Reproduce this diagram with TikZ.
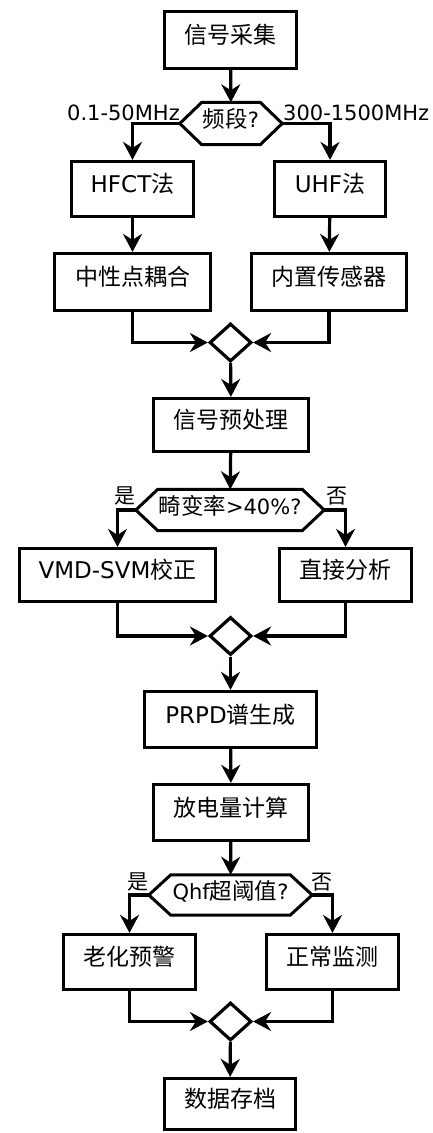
\documentclass[tikz,border=0pt]{standalone}
\usepackage{fontspec}
\setmainfont{DejaVu Sans}
\newfontfamily\cjk{Noto Sans CJK SC}
\newcommand\zh[1]{{\cjk #1}}
\newcommand\zhd[1]{{\cjk\fontsize{22.5}{26}\selectfont #1}}
\usetikzlibrary{arrows.meta,shapes.geometric}
\newcommand\hexdraw[1]{\draw[hexline] (#1.west) -- ([xshift=22pt]#1.north west) -- ([xshift=-22pt]#1.north east) -- (#1.east) -- ([xshift=-22pt]#1.south east) -- ([xshift=22pt]#1.south west) -- cycle;}
\begin{document}
\begin{tikzpicture}[x=1pt,y=-1pt,
  proc/.style={draw, line width=3.2pt, inner sep=0pt, font=\fontsize{23}{27}\selectfont, text height=0.88em, text depth=0.12em},
  hexnode/.style={inner sep=0pt, font=\fontsize{21}{25}\selectfont, text height=0.95em, text depth=0.15em},
  hexline/.style={line width=3pt, line join=miter},
  merge/.style={draw, diamond, line width=3.2pt, inner sep=0pt, minimum width=42pt, minimum height=38pt},
  lbl/.style={inner sep=0pt, font=\fontsize{21}{25}\selectfont},
  yn/.style={inner sep=0pt, font=\cjk\fontsize{21}{24}\selectfont, text height=0.88em, text depth=0.12em},
  arr/.style={line width=3.2pt, -{Stealth[length=18pt,width=19pt,inset=6pt]}},
  conn/.style={line width=3.2pt}]
\useasboundingbox (0,0) rectangle (433,1133);

% nodes
\node[proc, minimum width=132pt, minimum height=57pt] (b1) at (230.5,40) {\zh{信号采集}};
\node[hexnode, minimum width=102pt, minimum height=42pt] (h1) at (231,123.5) {\zhd{频段}?};
\node[proc, minimum width=122pt, minimum height=55pt] (b2) at (132.5,189) {HFCT\zh{法}};
\node[proc, minimum width=111pt, minimum height=55pt] (b3) at (330,189) {UHF\zh{法}};
\node[proc, minimum width=156pt, minimum height=57pt] (b4) at (132.5,282) {\zh{中性点耦合}};
\node[proc, minimum width=155pt, minimum height=57pt] (b5) at (329,282) {\zh{内置传感器}};
\node[merge] (m1) at (230.5,342.5) {};
\node[proc, minimum width=155pt, minimum height=53pt] (b6) at (231,425) {\zh{信号预处理}};
\node[hexnode, minimum width=188pt, minimum height=41pt] (h2) at (230,510) {\zhd{畸变率}>40\%?};
\node[proc, minimum width=196pt, minimum height=53pt] (b7) at (117.5,575) {VMD-SVM\zh{校正}};
\node[proc, minimum width=132pt, minimum height=53pt] (b8) at (345.5,575) {\zh{直接分析}};
\node[merge] (m2) at (230.5,636) {};
\node[proc, minimum width=172pt, minimum height=56pt] (b9) at (230.5,719.5) {PRPD\zh{谱生成}};
\node[proc, minimum width=155pt, minimum height=56pt] (b10) at (231,812.5) {\zh{放电量计算}};
\node[hexnode, minimum width=163pt, minimum height=40pt] (h3) at (230.5,895) {Qhf\zhd{超阈值}?};
\node[proc, minimum width=132pt, minimum height=55pt] (b11) at (129.5,962) {\zh{老化预警}};
\node[proc, minimum width=132pt, minimum height=55pt] (b12) at (332.5,962) {\zh{正常监测}};
\node[merge] (m3) at (230.5,1021.5) {};
\node[proc, minimum width=131pt, minimum height=51pt] (b13) at (230,1104) {\zh{数据存档}};

\hexdraw{h1}
\hexdraw{h2}
\hexdraw{h3}

% labels
\node[lbl, anchor=base east] (l1) at (180,120.5) {0.1-50MHz};
\node[lbl, anchor=base west] (l2) at (283,120.5) {300-1500MHz};
\node[yn] (y2) at (125,499.5) {是};
\node[yn] (n2) at (337,499.5) {否};
\node[yn] (y3) at (138,885.5) {是};
\node[yn] (n3) at (321.5,885.5) {否};

% connectors
\draw[arr] (b1) -- (h1);
\draw[arr] (h1.west) -| (b2.north);
\draw[arr] (h1.east) -| (b3.north);
\draw[arr] (b2) -- (b4);
\draw[arr] (b3) -- (b5);
\draw[arr] (b4.south) |- (m1.west);
\draw[arr] (b5.south) |- (m1.east);
\draw[arr] (m1) -- (b6);
\draw[arr] (b6) -- (h2);
\draw[arr] (h2.west) -| (b7.north);
\draw[arr] (h2.east) -| (b8.north);
\draw[arr] (b7.south) |- (m2.west);
\draw[arr] (b8.south) |- (m2.east);
\draw[arr] (m2) -- (b9);
\draw[arr] (b9) -- (b10);
\draw[arr] (b10) -- (h3);
\draw[arr] (h3.west) -| (b11.north);
\draw[arr] (h3.east) -| (b12.north);
\draw[arr] (b11.south) |- (m3.west);
\draw[arr] (b12.south) |- (m3.east);
\draw[arr] (m3) -- (b13);
\end{tikzpicture}
\end{document}
